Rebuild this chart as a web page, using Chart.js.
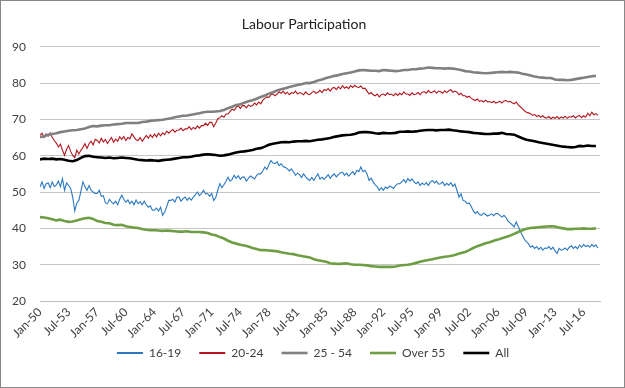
<!DOCTYPE html>
<html>
<head>
<meta charset="utf-8">
<script src="https://cdn.jsdelivr.net/npm/chart.js@4/dist/chart.umd.min.js"></script>
<style>
html,body{margin:0;padding:0;background:#fff;}
#wrap{width:625px;height:388px;position:relative;}
</style>
</head>
<body>
<div id="wrap"><canvas id="c" width="625" height="388"></canvas></div>
<script>
// x positions are month offsets from Jan-1950
const tickLabels = ['Jan-50','Jul-53','Jan-57','Jul-60','Jan-64','Jul-67','Jan-71','Jul-74','Jan-78','Jul-81',
  'Jan-85','Jul-88','Jan-92','Jul-95','Jan-99','Jul-02','Jan-06','Jul-09','Jan-13','Jul-16'];
const seriesNames = ['16-19','20-24','25 - 54','Over 55','All'];

// 16-19, quarterly (Jan, Apr, Jul, Oct) from 1950
const teen = [
51.4,52.8,51.0,52.3, 52.5,51.2,52.8,51.5, 52.0,53.0,51.5,53.7, 50.5,52.5,51.8,51.0,
48.6,44.8,47.0,47.7, 50.2,52.8,51.5,50.5, 51.8,50.5,50.0,49.6, 49.6,50.5,48.8,49.0,
47.0,46.8,48.0,47.2, 46.8,47.5,46.5,48.0, 49.1,48.0,47.2,47.8, 46.8,47.5,46.5,47.8,
46.8,47.3,46.5,47.5, 46.5,45.8,46.2,45.0, 45.0,45.6,44.8,45.8, 43.6,44.5,46.0,47.7,
47.7,48.0,47.2,48.6, 48.6,47.5,48.2,48.6, 47.7,48.4,47.8,48.6, 49.2,50.0,49.0,49.6,
50.5,49.5,49.6,48.8, 49.6,47.7,48.5,50.5, 52.3,51.2,52.0,53.0, 54.1,53.0,53.5,54.6,
53.8,54.5,53.5,54.1, 54.1,53.0,53.8,54.4, 54.0,53.6,54.6,55.0, 55.0,55.8,56.9,56.2,
57.5,58.7,58.0,57.8, 58.3,57.3,57.8,57.0, 56.8,56.4,55.8,56.4, 55.6,54.6,55.2,54.8,
54.0,55.0,54.2,53.6, 53.2,54.0,53.2,54.2, 55.0,53.6,54.1,53.5, 54.1,54.8,53.8,54.5,
55.0,54.2,54.8,55.3, 55.5,54.6,55.2,54.4, 55.0,55.6,54.8,56.0, 55.6,56.9,55.6,56.0,
55.0,53.2,53.8,52.8, 52.0,51.5,50.5,51.2, 50.5,51.4,51.0,51.6, 51.4,51.0,51.8,52.3,
52.3,52.8,53.4,52.6, 53.7,53.0,53.6,52.8, 52.3,52.8,51.8,52.5, 52.0,52.6,51.8,52.8,
53.2,52.5,53.0,52.2, 52.3,52.8,51.8,52.4, 51.9,52.6,51.6,52.2, 50.5,48.6,49.5,47.7,
47.5,46.8,47.0,46.0, 44.8,44.1,44.6,43.8, 43.6,44.2,43.8,43.4, 43.7,44.0,43.5,44.1,
44.1,43.6,43.1,43.6, 43.0,42.0,41.5,41.0, 40.4,41.8,40.5,39.2, 38.1,37.0,36.3,35.8,
34.8,35.2,34.5,35.0, 34.2,34.8,34.0,34.6, 34.5,35.0,34.2,34.8, 33.8,33.1,34.5,34.0,
34.2,34.6,34.0,34.8, 35.2,34.5,35.0,34.4, 35.4,34.8,35.6,35.0, 35.3,34.8,35.6,35.0,
35.4,34.6
];

// 20-24, quarterly from 1950
const young = [
65.6,66.2,65.0,66.0, 65.4,66.3,65.0,64.2, 63.5,62.4,63.2,61.5, 60.1,61.8,62.8,61.2,
60.1,59.5,61.5,60.5, 61.5,62.3,63.3,62.0, 63.3,64.0,63.0,64.5, 64.2,63.5,64.8,63.8,
64.5,63.4,64.2,65.0, 63.7,64.6,64.0,65.2, 64.5,65.3,64.2,65.0, 64.7,66.0,65.2,64.4,
64.2,65.0,64.0,64.8, 65.6,64.8,65.8,65.0, 66.0,65.2,66.2,65.5, 66.3,65.8,66.8,66.2,
66.8,67.2,66.5,67.0, 67.1,67.6,66.9,67.4, 67.4,68.0,67.2,67.8, 67.4,68.2,67.6,68.3,
68.3,69.0,68.3,69.2, 69.2,68.0,69.0,70.2, 70.5,71.0,70.6,71.5, 71.5,72.2,72.8,72.5,
73.3,73.8,73.0,73.8, 73.8,73.2,74.0,73.6, 73.8,74.5,74.0,74.8, 74.3,75.3,75.8,76.2,
76.1,76.8,77.0,76.5, 77.0,77.6,77.2,77.8, 77.0,77.5,76.8,77.4, 77.2,77.8,77.0,77.4,
77.2,76.8,77.6,77.0, 76.8,77.4,77.8,77.2, 77.5,78.0,77.4,78.2, 78.0,78.5,77.8,78.6,
78.8,78.2,79.0,78.4, 79.3,78.6,79.0,78.5, 79.3,78.8,79.4,78.9, 78.8,79.2,78.5,78.6,
77.8,77.0,77.4,76.8, 76.5,77.0,76.2,76.8, 77.0,76.6,77.3,76.8, 77.0,76.5,77.2,76.6,
77.2,76.8,77.6,77.0, 77.0,76.6,77.3,76.8, 77.0,77.4,76.8,77.5, 77.6,77.2,78.0,77.4,
77.5,77.9,77.2,77.8, 77.6,77.2,77.9,77.4, 77.9,78.2,77.5,77.8, 77.5,76.8,77.2,76.5,
76.5,76.1,76.4,75.8, 75.5,75.2,75.6,75.0, 75.2,74.8,75.3,74.8, 74.9,74.6,75.0,74.5,
74.7,75.0,74.5,75.1, 75.2,74.8,75.0,74.6, 74.3,74.8,74.0,73.5, 73.0,72.4,72.0,71.8,
71.6,71.1,71.4,70.8, 71.1,70.6,71.0,70.5, 70.4,70.8,70.2,70.6, 70.3,70.8,70.2,70.7,
70.4,70.9,70.3,70.8, 70.6,71.0,70.4,70.9, 71.1,70.5,71.0,70.6, 71.7,71.0,72.0,71.3,
71.6,71.1
];

// 25 - 54, half-yearly (Jan, Jul) from 1950
const prime = [
65.1,65.4, 65.8,66.0, 66.2,66.5, 66.7,66.9, 67.0,67.1, 67.3,67.5, 67.9,68.2, 68.1,68.3,
68.4,68.4, 68.6,68.7, 68.8,69.0, 69.0,69.0, 69.0,69.3, 69.4,69.6, 69.7,69.8, 69.9,70.1,
70.3,70.6, 70.8,71.0, 71.1,71.3, 71.5,71.7, 72.0,72.1, 72.1,72.2, 72.3,72.6, 73.1,73.5,
74.0,74.2, 74.6,75.0, 75.3,75.7, 76.2,76.6, 77.1,77.5, 78.0,78.3, 78.6,78.9, 79.2,79.5,
79.7,80.0, 80.0,80.3, 80.7,81.0, 81.4,81.7, 82.0,82.2, 82.5,82.7, 82.9,83.2, 83.5,83.6,
83.5,83.4, 83.4,83.3, 83.6,83.5, 83.4,83.3, 83.4,83.6, 83.6,83.8, 83.8,84.0, 84.1,84.3,
84.2,84.1, 84.1,84.0, 84.1,84.0, 83.8,83.6, 83.3,83.2, 83.0,82.9, 82.8,82.7, 82.8,82.9,
83.0,83.1, 83.0,83.1, 83.0,82.9, 82.6,82.4, 82.1,81.8, 81.6,81.5, 81.4,81.4, 81.0,80.9,
80.9,80.8, 80.9,81.1, 81.3,81.5, 81.7,81.9, 82.0
];

// Over 55, half-yearly from 1950
const older = [
43.1,43.0, 42.8,42.5, 42.2,42.4, 42.0,41.8, 41.9,42.2, 42.5,42.8, 42.9,42.6, 42.0,41.8,
41.5,41.4, 41.0,40.9, 41.0,40.6, 40.4,40.2, 40.1,39.8, 39.6,39.5, 39.5,39.4, 39.3,39.4,
39.3,39.2, 39.1,39.1, 39.2,39.0, 39.0,39.0, 38.9,38.7, 38.3,38.1, 37.6,37.2, 36.6,36.1,
35.8,35.5, 35.3,35.0, 34.6,34.3, 34.0,34.0, 33.9,33.8, 33.7,33.4, 33.2,33.0, 32.9,32.6,
32.4,32.2, 32.0,31.5, 31.2,31.0, 30.8,30.4, 30.3,30.2, 30.3,30.4, 30.1,30.0, 30.0,29.9,
29.8,29.6, 29.5,29.4, 29.4,29.4, 29.4,29.5, 29.8,29.9, 30.0,30.2, 30.5,30.8, 31.1,31.3,
31.5,31.8, 32.0,32.2, 32.3,32.5, 32.9,33.2, 33.5,34.0, 34.6,35.1, 35.5,35.9, 36.2,36.6,
36.9,37.3, 37.6,38.0, 38.5,39.0, 39.5,39.9, 40.1,40.2, 40.3,40.4, 40.5,40.6, 40.5,40.2,
40.0,39.8, 39.8,39.9, 39.9,40.0, 39.9,39.9, 40.0
];

// All, half-yearly from 1950
const total = [
59.0,59.2, 59.1,59.2, 59.0,59.1, 58.9,58.6, 58.5,58.8, 59.4,59.9, 60.0,59.7, 59.6,59.5,
59.4,59.5, 59.3,59.4, 59.5,59.4, 59.3,59.1, 58.9,58.8, 58.7,58.8, 58.7,58.6, 58.8,58.9,
59.0,59.2, 59.4,59.6, 59.6,59.7, 60.0,60.1, 60.3,60.4, 60.3,60.2, 60.0,60.1, 60.3,60.6,
60.9,61.1, 61.2,61.4, 61.6,61.9, 62.1,62.5, 63.0,63.3, 63.5,63.7, 63.8,63.7, 63.9,64.0,
64.0,64.1, 64.0,64.2, 64.4,64.5, 64.7,64.9, 65.2,65.4, 65.6,65.7, 65.8,66.0, 66.4,66.5,
66.5,66.4, 66.2,66.1, 66.3,66.2, 66.2,66.3, 66.6,66.6, 66.7,66.6, 66.7,66.9, 67.0,67.1,
67.1,67.0, 67.1,67.1, 67.2,67.0, 66.9,66.7, 66.6,66.5, 66.3,66.2, 66.1,66.0, 66.0,66.1,
66.1,66.3, 66.0,65.9, 65.8,65.3, 64.8,64.4, 64.2,64.0, 63.7,63.5, 63.3,63.1, 62.9,62.7,
62.5,62.4, 62.3,62.4, 62.7,62.6, 62.8,62.7, 62.7
];

const toPoints = (arr, monthsPerStep) => arr.map((v, i) => ({x: i * monthsPerStep, y: v}));

const colors = ['#2B78C2','#B0161E','#808080','#6E9E44','#000000'];
const widths = [1.1, 1.1, 2.6, 2.6, 2.6];
const sources = [[teen,3],[young,3],[prime,6],[older,6],[total,6]];

const datasets = seriesNames.map((name, k) => ({
  label: name,
  data: toPoints(sources[k][0], sources[k][1]),
  borderColor: colors[k],
  backgroundColor: colors[k],
  borderWidth: widths[k],
  pointRadius: 0,
  tension: 0,
  fill: false,
  order: 5 - k
}));

const FONT = 'Lato, "Open Sans", "DejaVu Sans", sans-serif';
const TXT = '#404040';

const borderPlugin = {
  id: 'outerBorder',
  afterLayout(chart) {
    // centre the legend on the whole canvas width and pull it up under the axis labels
    const lg = chart.legend;
    if (lg) { lg.left += 9; lg.right += 9; lg.top -= 12; lg.bottom -= 12; }
  },
  afterDraw(chart) {
    const ctx = chart.ctx;
    ctx.save();
    ctx.strokeStyle = '#878787';
    ctx.lineWidth = 1;
    ctx.strokeRect(0.5, 0.5, chart.width - 1, chart.height - 1);
    ctx.restore();
  }
};

new Chart(document.getElementById('c'), {
  type: 'line',
  data: { datasets },
  plugins: [borderPlugin],
  options: {
    responsive: false,
    animation: false,
    layout: { padding: { left: 8, right: 25, top: 6, bottom: 7 } },
    plugins: {
      title: {
        display: true,
        text: 'Labour Participation',
        color: '#202020',
        font: { family: FONT, size: 14, weight: 'normal' },
        padding: { top: 10, bottom: 14 }
      },
      legend: {
        position: 'bottom',
        labels: {
          usePointStyle: true,
          pointStyle: 'line',
          pointStyleWidth: 26,
          padding: 18,
          color: TXT,
          font: { family: FONT, size: 12 },
          sort: (a, b) => a.datasetIndex - b.datasetIndex,
          generateLabels(chart) {
            const items = Chart.defaults.plugins.legend.labels.generateLabels(chart);
            items.forEach(it => { it.lineWidth = Math.max(2, widths[it.datasetIndex]); });
            return items;
          }
        }
      },
      tooltip: { enabled: false }
    },
    scales: {
      x: {
        type: 'linear',
        min: 0,
        max: 822,
        grid: { display: false, drawTicks: false },
        border: { display: true, color: '#BFBFBF', width: 1 },
        afterFit(scale) { scale.height = 40; },
        ticks: {
          stepSize: 42,
          autoSkip: false,
          includeBounds: false,
          maxRotation: 45,
          minRotation: 45,
          padding: 4,
          color: TXT,
          font: { family: FONT, size: 12 },
          callback: (v) => tickLabels[Math.round(v / 42)]
        }
      },
      y: {
        min: 20,
        max: 90,
        grid: { color: '#C6C6C6', drawTicks: false },
        border: { display: false },
        afterFit(scale) { scale.width = 32; },
        ticks: {
          stepSize: 10,
          padding: 14,
          color: TXT,
          font: { family: FONT, size: 12 }
        }
      }
    }
  }
});
</script>
</body>
</html>
